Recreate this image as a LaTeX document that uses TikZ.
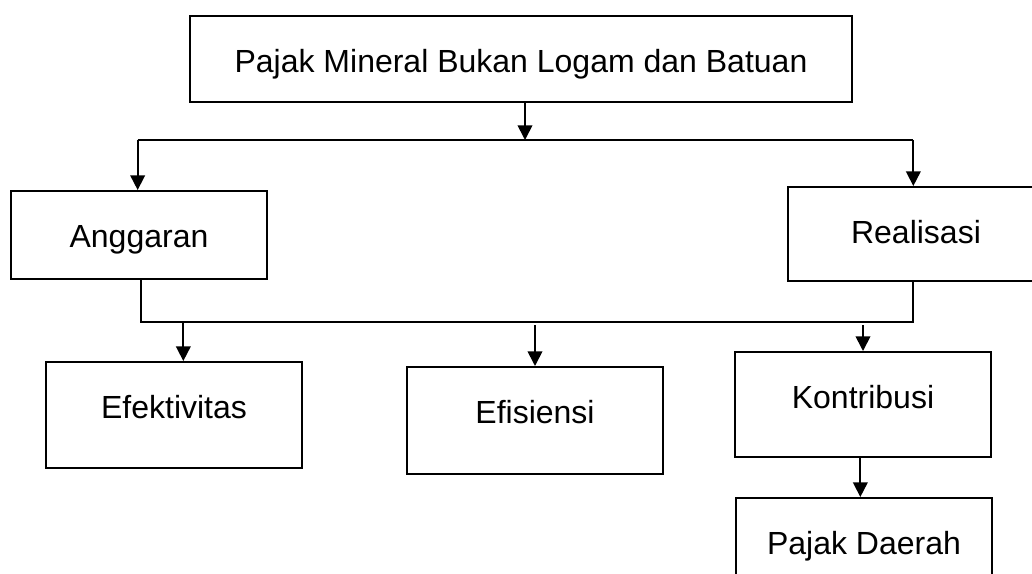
\documentclass[tikz,border=0pt]{standalone}
\usepackage{fontspec}
\setmainfont{Liberation Sans}
\usetikzlibrary{arrows.meta, positioning, calc}

\begin{document}
\begin{tikzpicture}[
    x=0.75pt, y=-0.75pt,
    box/.style={draw, line width=1.3pt, inner sep=0pt, anchor=north, minimum width=192pt,
        text height=42.75pt, font=\fontsize{24}{28}\selectfont},
    link/.style={line width=1.3pt},
    >={Triangle[length=11pt, width=11pt]}
]
    \useasboundingbox (0,0) rectangle (1032,574);

    \node[box, minimum width=497pt, text depth=21.75pt] (pajak) at (521,15) {Pajak Mineral Bukan Logam dan Batuan};
    \node[box, text depth=23.25pt] (angg) at (139,190) {Anggaran};
    \node[box, text depth=27.75pt] (real) at (916,186) {Realisasi};
    \node[box, text depth=36.75pt] (efek) at (174,361) {Efektivitas};
    \node[box, text depth=37.5pt] (efis) at (535,366) {Efisiensi};
    \node[box, text depth=36pt] (kontr) at (863,351) {Kontribusi};
    \node[box, text depth=32pt] (daerah) at (864,497) {Pajak Daerah};

    \coordinate (bar1) at (0,140);
    \coordinate (bar2) at (0,322);

    % cabang atas
    \draw[link, ->] ([xshift=3pt]pajak.south) -- ([xshift=3pt]pajak.south |- bar1);
    \draw[link] ([xshift=-1pt]angg.north |- bar1) -- ([xshift=-2pt]real.north |- bar1);
    \draw[link, ->] ([xshift=-1pt]angg.north |- bar1) -- ([xshift=-1pt]angg.north);
    \draw[link, ->] ([xshift=-2pt]real.north |- bar1) -- ([xshift=-2pt]real.north);

    % cabang bawah
    \draw[link] ([xshift=1.5pt]angg.south) -- ([xshift=1.5pt]angg.south |- bar2)
        -- ([xshift=-2pt]real.south |- bar2) -- ([xshift=-2pt]real.south);
    \draw[link, ->] ([xshift=7pt]efek.north |- bar2) -- ([xshift=7pt]efek.north);
    \draw[link, ->] ($(efis.north |- bar2)+(0,3)$) -- (efis.north);
    \draw[link, ->] ($(kontr.north |- bar2)+(0,3)$) -- (kontr.north);
    \draw[link, ->] ([xshift=-2pt]kontr.south) -- ([xshift=-2pt]kontr.south |- daerah.north);
\end{tikzpicture}
\end{document}
